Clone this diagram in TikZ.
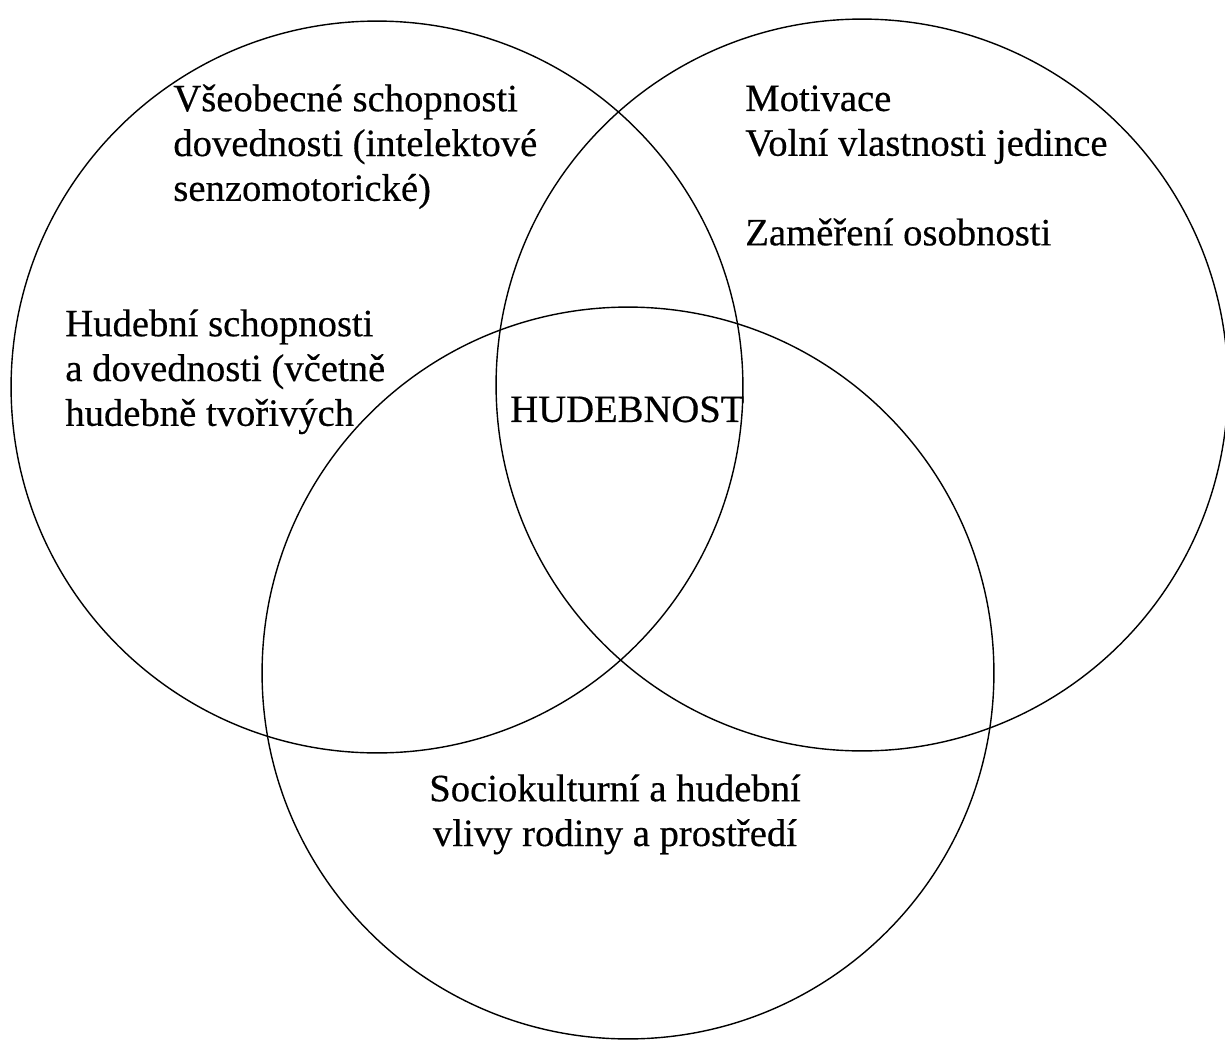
\documentclass[tikz,border=0pt]{standalone}
\usepackage{fontspec}
\setmainfont{Liberation Serif}[FakeBold=0.4]
\begin{document}
\begin{tikzpicture}[x=0.02cm, y=-0.02cm,
		set/.style={draw, circle, line width=0.8pt, minimum size=14.64cm, inner sep=0pt},
		txt/.style={inner sep=0pt, align=left, anchor=north west, font=\fontsize{22}{25.5}\selectfont}]
			\useasboundingbox (0,0) rectangle (1225,1042);
			\node[set] (schop) at (377,387) {};
			\node[set] (osob) at (862,385) {};
			\node[set] (vlivy) at (628,673) {};
			
			\node[txt] (vseob) at (173,84) {Všeobecné schopnosti\\dovednosti (intelektové\\senzomotorické)};
			\node[txt] (hudeb) at (65,309) {Hudební schopnosti\\a dovednosti (včetně\\hudebně tvořivých};
			\node[txt] (motiv) at (745,85) {Motivace\\Volní vlastnosti jedince\\[25.5pt]Zaměření osobnosti};
			\node[txt] (stred) at (510,396) {HUDEBNOST};
			\node[txt, align=center, anchor=north] (socio) at (615,774) {Sociokulturní a hudební\\vlivy rodiny a prostředí};
			
		\end{tikzpicture}
\end{document}
